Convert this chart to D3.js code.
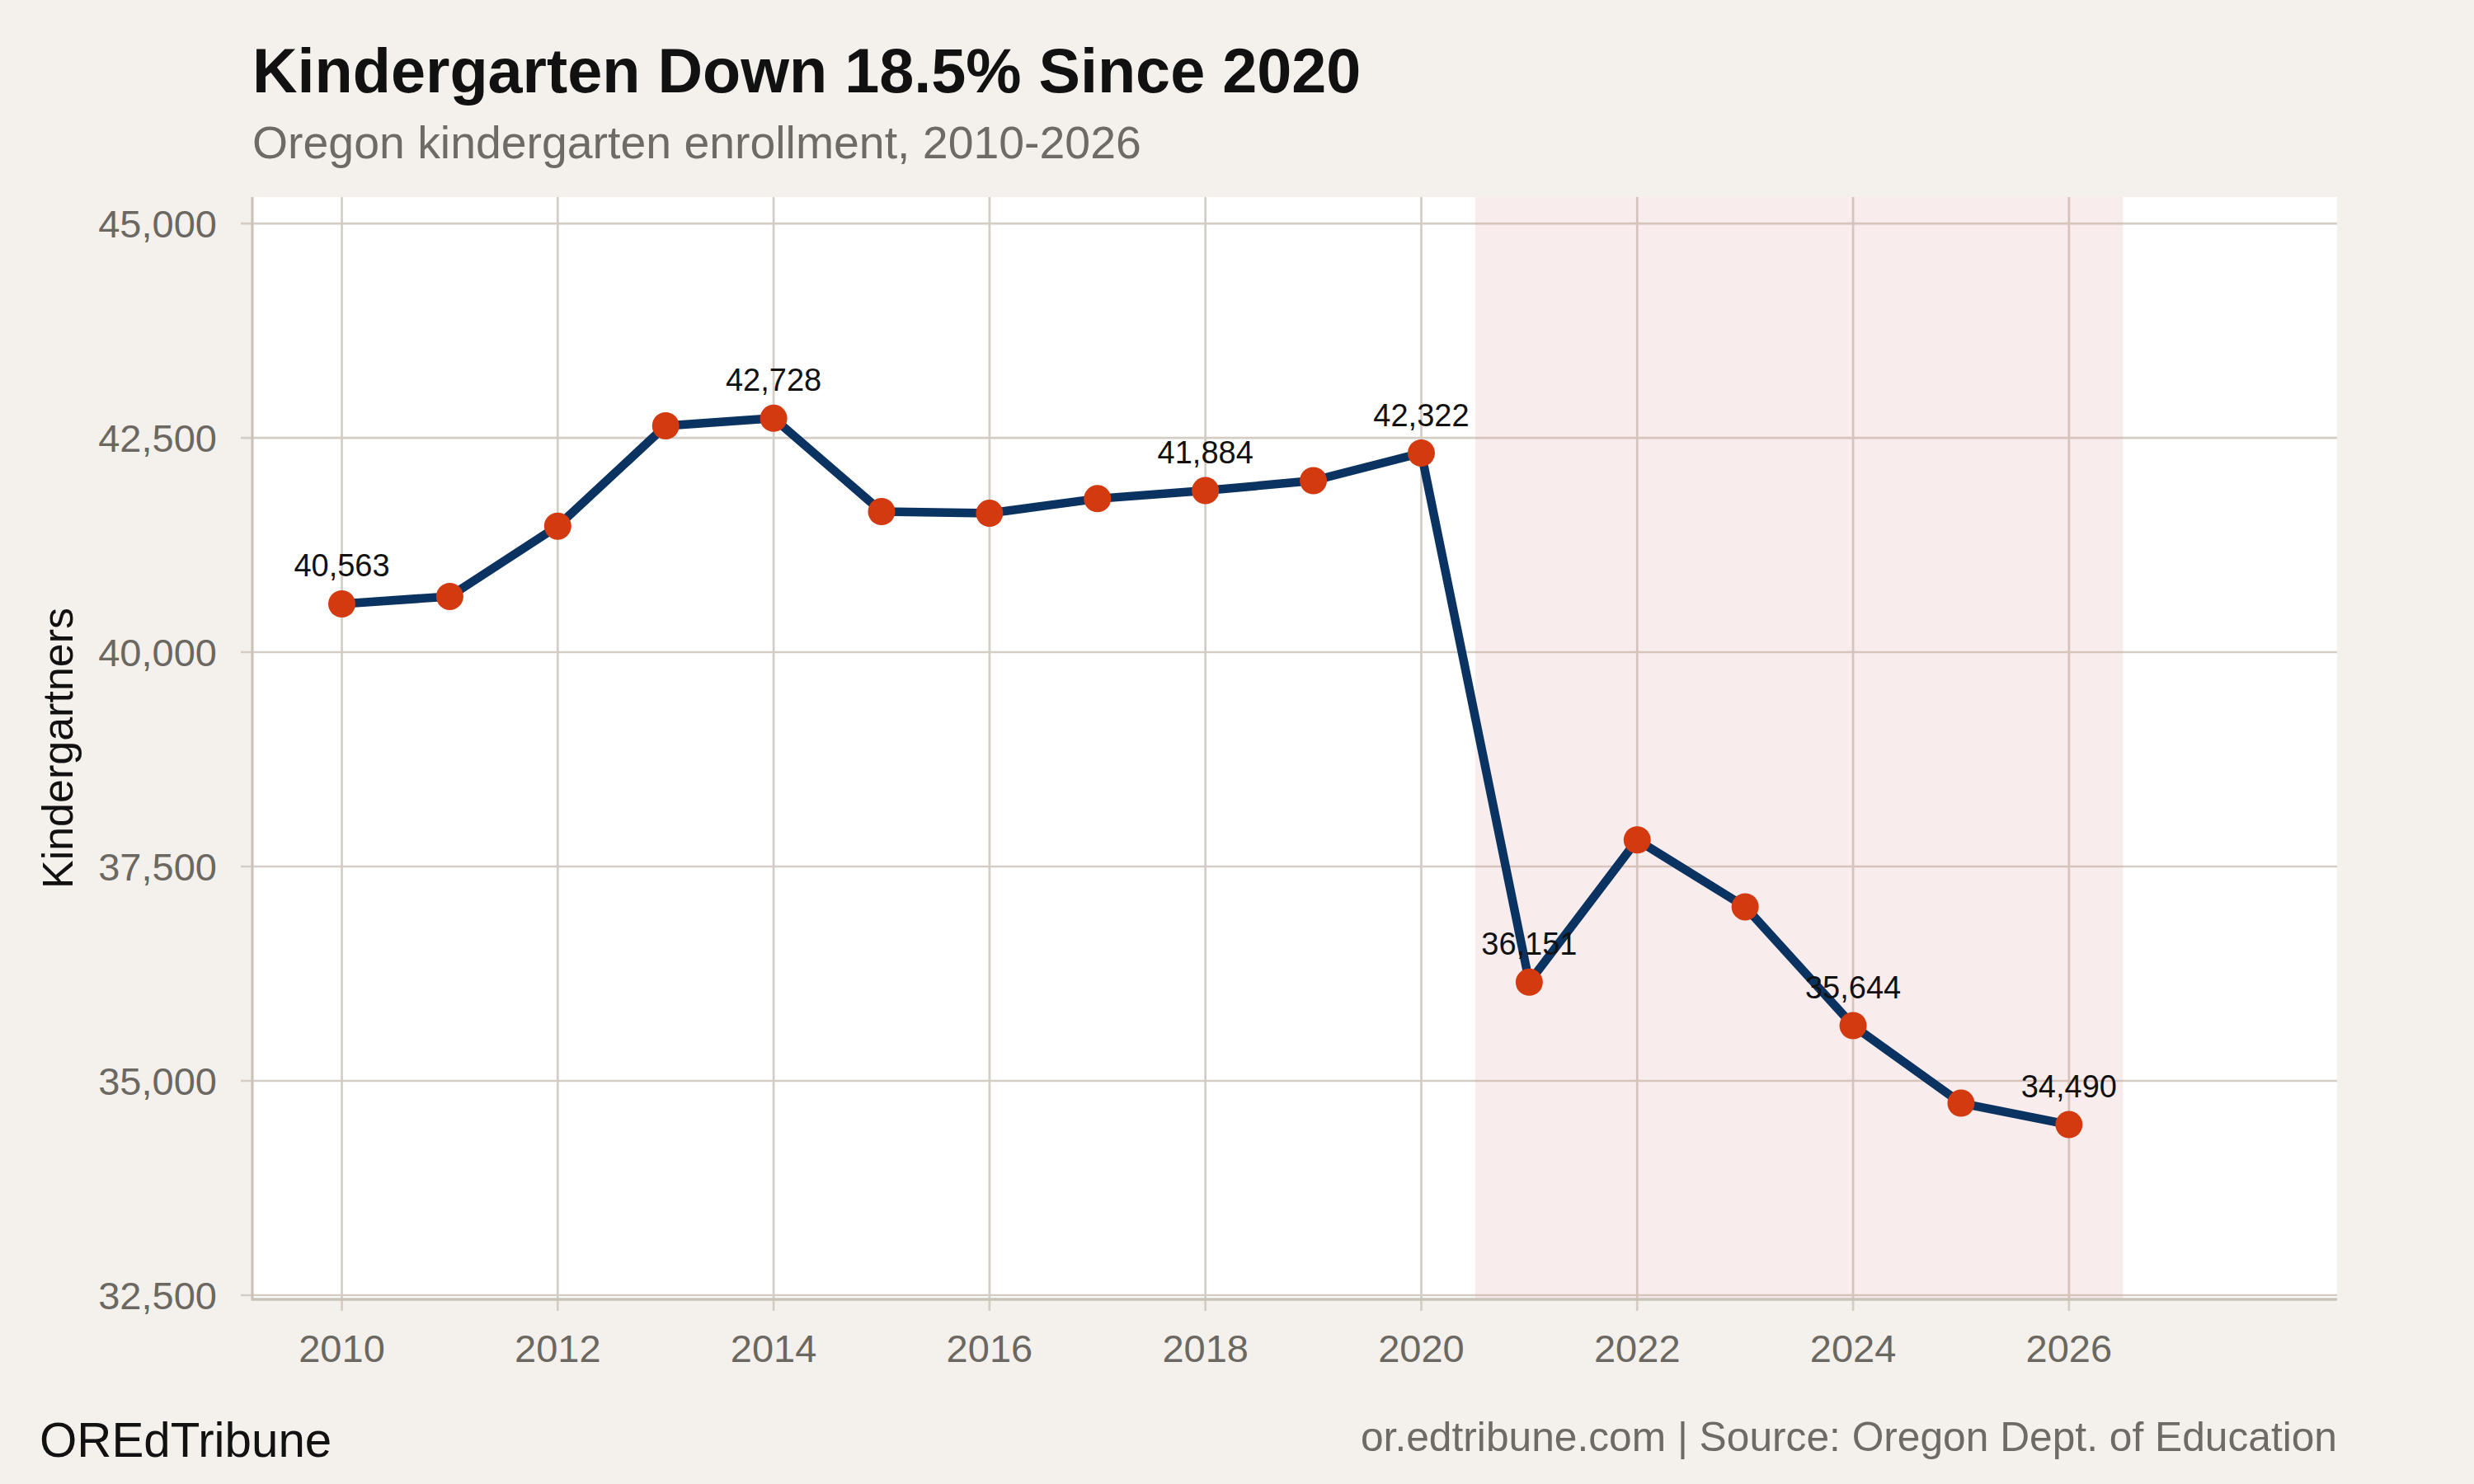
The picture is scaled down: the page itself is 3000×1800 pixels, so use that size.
<!DOCTYPE html>
<html>
<head>
<meta charset="utf-8">
<script src="https://cdn.jsdelivr.net/npm/d3@7"></script>
<style>
  html, body { margin: 0; padding: 0; background: #f4f1ec; }
  svg { display: block; }
  text { font-family: "Liberation Sans", Arial, Helvetica, sans-serif; }
</style>
</head>
<body>
<svg id="chart" width="3000" height="1800"></svg>
<script>
// ---- data ----
const years = [2010, 2011, 2012, 2013, 2014, 2015, 2016, 2017, 2018, 2019, 2020, 2021, 2022, 2023, 2024, 2025, 2026];
const enrollment = [40563, 40650, 41470, 42640, 42728, 41640, 41620, 41790, 41884, 42000, 42322, 36151, 37810, 37030, 35644, 34740, 34490];
const labeledYears = [2010, 2014, 2018, 2020, 2021, 2024, 2026];
const xTicks = [2010, 2012, 2014, 2016, 2018, 2020, 2022, 2024, 2026];
const yTicks = [32500, 35000, 37500, 40000, 42500, 45000];
const shadedSpan = [2020.5, 2026.5];

const titleText = "Kindergarten Down 18.5% Since 2020";
const subtitleText = "Oregon kindergarten enrollment, 2010-2026";
const yAxisTitle = "Kindergartners";
const brandText = "OREdTribune";
const sourceText = "or.edtribune.com | Source: Oregon Dept. of Education";

// ---- layout ----
const W = 3000, H = 1800;
const panel = { left: 306, right: 2834, top: 239, bottom: 1576 };
const gridColor = "#d3cdc5";
const axisColor = "#cac3b9";
const tickTextColor = "#6b6761";

const svg = d3.select("#chart");
svg.append("rect").attr("width", W).attr("height", H).attr("fill", "#f4f1ec");

const x = d3.scaleLinear().domain([2009.171, 2028.484]).range([panel.left, panel.right]);
const y = d3.scaleLinear().domain([32452, 45308]).range([panel.bottom, panel.top]);

// panel background
svg.append("rect")
  .attr("x", panel.left).attr("y", panel.top)
  .attr("width", panel.right - panel.left).attr("height", panel.bottom - panel.top)
  .attr("fill", "#ffffff");

// grid lines + ticks (extend beyond panel as tick marks)
const tickLen = 14;
svg.append("g").selectAll("line").data(xTicks).join("line")
  .attr("x1", d => x(d)).attr("x2", d => x(d))
  .attr("y1", panel.top).attr("y2", panel.bottom + tickLen)
  .attr("stroke", gridColor).attr("stroke-width", 2.7);
svg.append("g").selectAll("line").data(yTicks).join("line")
  .attr("x1", panel.left - tickLen).attr("x2", panel.right)
  .attr("y1", d => y(d)).attr("y2", d => y(d))
  .attr("stroke", gridColor).attr("stroke-width", 2.7);

// shaded span
svg.append("rect")
  .attr("x", x(shadedSpan[0])).attr("y", panel.top)
  .attr("width", x(shadedSpan[1]) - x(shadedSpan[0]))
  .attr("height", panel.bottom - panel.top)
  .attr("fill", "rgb(220,150,150)").attr("fill-opacity", 0.18);

// axis lines
svg.append("line")
  .attr("x1", panel.left).attr("x2", panel.left)
  .attr("y1", panel.top).attr("y2", panel.bottom + 1.5)
  .attr("stroke", axisColor).attr("stroke-width", 3.2);
svg.append("line")
  .attr("x1", panel.left).attr("x2", panel.right)
  .attr("y1", panel.bottom).attr("y2", panel.bottom)
  .attr("stroke", axisColor).attr("stroke-width", 3.5);

// tick labels
const fmt = d3.format(",");
svg.append("g").selectAll("text").data(xTicks).join("text")
  .attr("x", d => x(d)).attr("y", 1652)
  .attr("text-anchor", "middle")
  .attr("font-size", 47).attr("fill", tickTextColor)
  .text(d => d);
svg.append("g").selectAll("text").data(yTicks).join("text")
  .attr("x", 263).attr("y", d => y(d) + 17)
  .attr("text-anchor", "end")
  .attr("font-size", 47).attr("fill", tickTextColor)
  .text(d => fmt(d));

// y axis title
svg.append("text")
  .attr("transform", `translate(88, ${(panel.top + panel.bottom) / 2}) rotate(-90)`)
  .attr("text-anchor", "middle")
  .attr("font-size", 52).attr("fill", "#111111")
  .text(yAxisTitle);

// line
const pts = years.map((yr, i) => ({ year: yr, value: enrollment[i] }));
const line = d3.line().x(d => x(d.year)).y(d => y(d.value));
svg.append("path").datum(pts)
  .attr("d", line)
  .attr("fill", "none")
  .attr("stroke", "#0a3362")
  .attr("stroke-width", 10.5)
  .attr("stroke-linejoin", "round");

// points
svg.append("g").selectAll("circle").data(pts).join("circle")
  .attr("cx", d => x(d.year)).attr("cy", d => y(d.value))
  .attr("r", 16.5).attr("fill", "#d33a10");

// value labels
svg.append("g").selectAll("text").data(pts.filter(d => labeledYears.includes(d.year))).join("text")
  .attr("x", d => x(d.year)).attr("y", d => y(d.value) - 33)
  .attr("text-anchor", "middle")
  .attr("font-size", 38).attr("fill", "#111111")
  .text(d => fmt(d.value));

// titles
svg.append("text").attr("x", 306).attr("y", 112)
  .attr("font-size", 75.6).attr("font-weight", "bold").attr("fill", "#111111")
  .text(titleText);
svg.append("text").attr("x", 306).attr("y", 192)
  .attr("font-size", 55.4).attr("fill", "#6e6a65")
  .text(subtitleText);

// footer
svg.append("text").attr("x", 48).attr("y", 1767)
  .attr("font-size", 58.3).attr("fill", "#111111")
  .text(brandText);
svg.append("text").attr("x", panel.right).attr("y", 1760)
  .attr("text-anchor", "end")
  .attr("font-size", 49.7).attr("fill", "#6e6a65")
  .text(sourceText);
</script>
</body>
</html>
